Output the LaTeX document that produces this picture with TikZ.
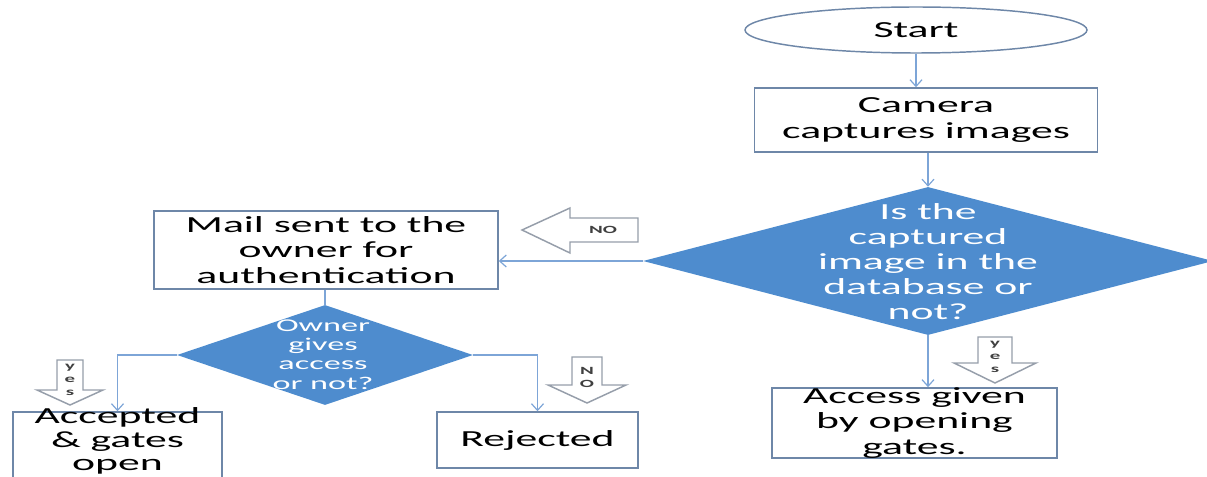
\documentclass[tikz,border=0pt]{standalone}
\usepackage{fontspec}
\setmainfont[FakeStretch=1.9]{Carlito}
\usetikzlibrary{shapes, arrows.meta}

\definecolor{boxline}{RGB}{110,135,168}
\definecolor{decfill}{RGB}{78,140,206}
\definecolor{linkblue}{RGB}{125,165,215}
\definecolor{hollow}{RGB}{150,158,170}

\tikzset{
	stepbox/.style={rectangle, draw=boxline, line width=1.1pt, fill=white, align=center, inner sep=0pt,
		font=\fontsize{17.25}{18.9}\selectfont},
	decision/.style={diamond, fill=decfill, inner sep=0pt, aspect=1},
	dectext/.style={align=center, text=white, inner sep=0pt},
	link/.style={draw=linkblue, line width=0.9pt},
	hollowarrow/.style={draw=hollow, line width=1.1pt, fill=white, line join=miter},
	tag/.style={align=center, inner sep=0pt, font=\bfseries\fontsize{8.25}{9.75}\selectfont, text=black!75}
}

\begin{document}
\begin{tikzpicture}[x=0.75pt, y=-0.75pt, >={Straight Barb[length=5pt, width=9pt]}]
		\useasboundingbox (0,0) rectangle (1207,477);

		% main column
		\node[ellipse, draw=boxline, line width=1.1pt, minimum width=256.5pt, minimum height=34.5pt, inner sep=0pt,
			font=\fontsize{17.25}{18.9}\selectfont] (start) at (916,30) {Start};
		\node[stepbox, minimum width=257.25pt, minimum height=48pt] (camera) at (926,120) {Camera\\captures images};
		\node[decision, minimum width=427.5pt, minimum height=111pt] (check) at (928,261) {};
		\node[dectext, font=\fontsize{17.25}{18.75}\selectfont] (checktext) at (928,262)
			{Is the\\captured\\image in the\\database or\\not?};
		\node[stepbox, minimum width=213.75pt, minimum height=52.5pt] (access) at (914.5,423)
			{Access given\\by opening\\gates.};

		% left branch
		\node[stepbox, minimum width=258pt, minimum height=58.5pt] (mail) at (326,250)
			{Mail sent to the\\owner for\\authentication};
		\node[decision, minimum width=222pt, minimum height=75pt] (owner) at (325,355) {};
		\node[dectext, font=\fontsize{13.5}{14.5}\selectfont] (ownertext) at (323,354.5)
			{Owner\\gives\\access\\or not?};
		\node[stepbox, minimum width=156.75pt, minimum height=49.5pt] (accepted) at (117.5,445) {};
		\node[align=center, inner sep=0pt, font=\fontsize{17.25}{17.6}\selectfont] (acceptedtext) at (117.5,441)
			{Accepted\\\& gates\\open};
		\node[stepbox, minimum width=150.75pt, minimum height=42pt] (rejected) at (537.5,440) {Rejected};

		% connectors
		\draw[link, ->] (start) -- (start |- camera.north);
		\draw[link, ->] (camera.south -| check.north) -- (check.north);
		\draw[link, ->] (check.west) -- (check.west -| mail.east);
		\draw[link, ->] (check.south) -- (check.south |- access.north);
		\draw[link] (mail.south -| owner.north) -- (owner.north);
		\draw[link, ->] (owner.west) -| (accepted.north);
		\draw[link, ->] (owner.east) -| (rejected.north);

		% hollow block arrows
		\draw[hollowarrow] (638,218) -- (570,218) -- (570,208) -- (522,230) -- (570,253) -- (570,242) -- (638,242) -- cycle;
		\node[tag] (nocheck) at (603,230) {NO};
		\draw[hollowarrow] (57,360) -- (83,360) -- (83,390) -- (103,390) -- (70,405) -- (37,390) -- (57,390) -- cycle;
		\node[tag] (yesowner) at (70,380) {y\\e\\s};
		\draw[hollowarrow] (572,357) -- (602,357) -- (602,385) -- (626,385) -- (587,403) -- (548,385) -- (572,385) -- cycle;
		\node[tag] (noowner) at (587,377) {N\\O};
		\draw[hollowarrow] (978,337) -- (1012,337) -- (1012,363) -- (1036,363) -- (995,383) -- (954,363) -- (978,363) -- cycle;
		\node[tag] (yescheck) at (995,357) {y\\e\\s};
	\end{tikzpicture}
\end{document}
